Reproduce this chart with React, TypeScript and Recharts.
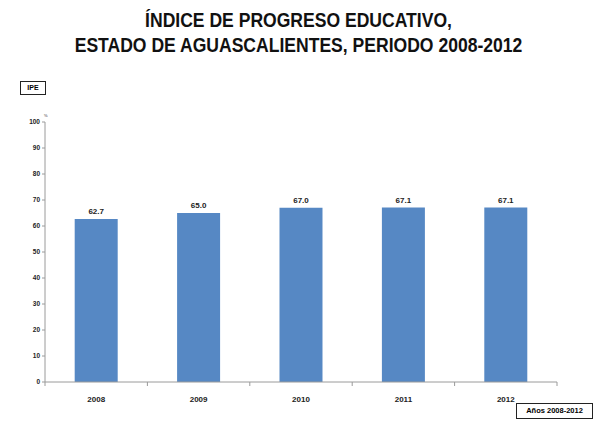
import React from 'react';
import { Bar, BarChart, LabelList, XAxis, YAxis } from 'recharts';

const years = ['2008', '2009', '2010', '2011', '2012'];
const ipe = [62.7, 65.0, 67.0, 67.1, 67.1];
const yTicks = [0, 10, 20, 30, 40, 50, 60, 70, 80, 90, 100];
const titleLines = ['ÍNDICE DE PROGRESO EDUCATIVO,', 'ESTADO DE AGUASCALIENTES, PERIODO 2008-2012'];

const data = years.map((year, i) => ({ year, pos: i + 0.5, value: ipe[i] }));
const gridTicks = years.flatMap((_, i) => [i, i + 0.5]).concat([years.length]);

const font = '"Liberation Sans", Arial, sans-serif';

function BottomTick(props: any) {
  const { x, y, payload } = props;
  const v = payload.value as number;
  if (Number.isInteger(v)) {
    return <line x1={x} x2={x} y1={y - 8} y2={y - 4} stroke="#9a9a9a" strokeWidth={1} />;
  }
  return (
    <text x={x} y={y + 12} textAnchor="middle" fontSize={8} fontWeight="bold" fill="#222" fontFamily={font}>
      {years[Math.floor(v)]}
    </text>
  );
}

export default function App() {
  return (
    <div style={{ position: 'absolute', left: 0, top: 0, width: 593, height: 423, background: '#fff' }}>
      <div
        style={{
          position: 'absolute',
          top: 8,
          left: 2,
          width: 593,
          textAlign: 'center',
          fontFamily: '"Liberation Sans Narrow", "Arial Narrow", ' + font,
          fontWeight: 'bold',
          fontSize: 19.5,
          lineHeight: '25px',
          color: '#111',
          transform: 'scaleX(0.9)',
        }}
      >
        {titleLines.map((t) => (
          <div key={t}>{t}</div>
        ))}
      </div>
      <div
        style={{
          position: 'absolute',
          left: 20,
          top: 81,
          width: 26,
          height: 14,
          border: '1px solid #222',
          fontFamily: font,
          fontWeight: 'bold',
          fontSize: 7,
          lineHeight: '12px',
          textAlign: 'center',
          boxSizing: 'border-box',
        }}
      >
        IPE
      </div>
      <div
        style={{
          position: 'absolute',
          left: 44,
          top: 113,
          fontFamily: font,
          fontSize: 4,
          color: '#333',
        }}
      >
        %
      </div>
      <div
        style={{
          position: 'absolute',
          left: 516,
          top: 403,
          width: 77,
          height: 16,
          border: '1px solid #222',
          fontFamily: font,
          fontWeight: 'bold',
          fontSize: 7.5,
          lineHeight: '14px',
          textAlign: 'center',
          boxSizing: 'border-box',
        }}
      >
        Años 2008-2012
      </div>
      <BarChart
        width={593}
        height={423}
        data={data}
        margin={{ top: 122, right: 36, bottom: 0, left: 0 }}
        barCategoryGap="29%"
      >
        <XAxis xAxisId="cat" dataKey="year" hide height={0} />
        <XAxis
          xAxisId="grid"
          dataKey="pos"
          type="number"
          domain={[0, years.length]}
          allowDataOverflow
          ticks={gridTicks}
          interval={0}
          height={41}
          axisLine={{ stroke: '#9a9a9a' }}
          tickLine={false}
          tick={<BottomTick />}
        />
        <YAxis
          width={45}
          domain={[0, 100]}
          ticks={yTicks}
          interval={0}
          axisLine={{ stroke: '#9a9a9a' }}
          tickLine={{ stroke: '#9a9a9a' }}
          tickSize={3}
          tick={{ fontSize: 6.5, fontWeight: 'bold', fill: '#222', fontFamily: font }}
        />
        <Bar xAxisId="cat" dataKey="value" fill="#5688C4" isAnimationActive={false}>
          <LabelList
            dataKey="value"
            position="top"
            offset={5}
            formatter={(v: any) => Number(v).toFixed(1)}
            style={{ fontSize: 8, fontWeight: 'bold', fill: '#222', fontFamily: font }}
          />
        </Bar>
      </BarChart>
    </div>
  );
}
